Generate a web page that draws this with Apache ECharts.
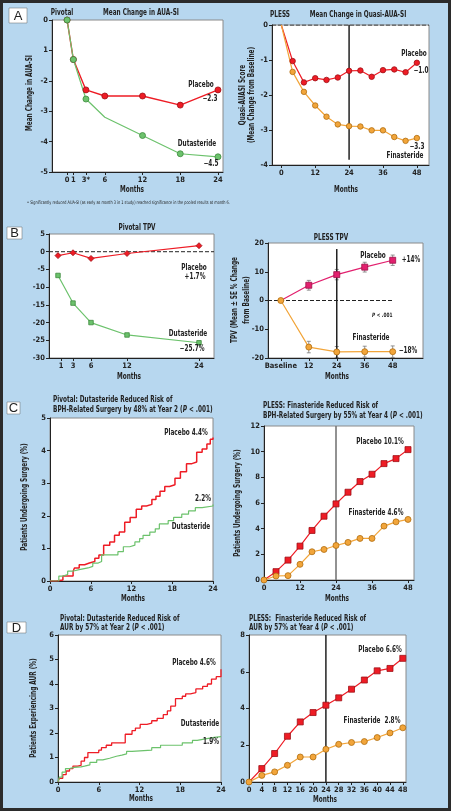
<!DOCTYPE html>
<html><head><meta charset="utf-8">
<script src="https://cdn.jsdelivr.net/npm/echarts@6/dist/echarts.min.js"></script>
<style>html,body{margin:0;padding:0;background:#b7d7ef}#c{width:451px;height:811px}</style>
</head><body><div id="c"></div><script>
// ---------- DATA ----------
// A left: Pivotal mean change in AUA-SI
const aPivMonths = [0, 1, 3, 6, 12, 18, 24];
const aPivPlacebo = [0, -1.3, -2.3, -2.5, -2.5, -2.8, -2.3];
const aPivDuta = [0, -1.3, -2.6, -3.2, -3.8, -4.4, -4.5];
const aPivXTicks = [0, 1, 3, 6, 12, 18, 24];
const aPivXLabels = ["0", "1", "3*", "6", "12", "18", "24"];
const aPivYTicks = [0, -1, -2, -3, -4, -5];
const aPivYLabels = ["0", "1", "-2", "-3", "-4", "-5"];
// A right: PLESS quasi-AUA-SI
const aPlessMonths = [0, 4, 8, 12, 16, 20, 24, 28, 32, 36, 40, 44, 48];
const aPlessPlacebo = [0, -1.03, -1.64, -1.52, -1.57, -1.50, -1.31, -1.30, -1.48, -1.29, -1.27, -1.35, -1.08];
const aPlessFin = [0, -1.34, -1.91, -2.30, -2.62, -2.84, -2.89, -2.90, -3.01, -3.01, -3.20, -3.31, -3.23];
const aPlessXTicks = [0, 12, 24, 36, 48];
// B left: Pivotal TPV
const bPivMonths = [0.5, 3, 6, 12, 24];
const bPivPlacebo = [-1.1, -0.3, -1.9, -0.5, 1.7];
const bPivDuta = [-6.7, -14.5, -20.0, -23.5, -25.7];
const bPivXTicks = [1, 3, 6, 12, 24];
// B right: PLESS TPV
const bPlessMonths = [0, 12, 24, 36, 48];
const bPlessPlacebo = [0, 5.3, 9.0, 11.6, 14.0];
const bPlessPlaceboSE = [0, 1.7, 1.8, 1.7, 1.8];
const bPlessFin = [0, -16.2, -17.9, -17.8, -17.8];
const bPlessFinSE = [0, 2.0, 1.9, 1.9, 2.0];
const bPlessXTicks = [0, 12, 24, 36, 48];
const bPlessXLabels = ["Baseline", "12", "24", "36", "48"];
// C left: Pivotal surgery KM
const cPivPlaceboT = [0, 0.9, 1.9, 3.4, 3.6, 4.3, 5.1, 5.8, 6.6, 7.2, 7.9, 8.8, 9.5, 10.2, 11.0, 11.8, 12.7, 13.5, 14.2, 15.0, 15.6, 16.2, 16.9, 17.6, 18.4, 19.2, 20.1, 20.9, 21.6, 22.4, 23.1, 23.6, 24];
const cPivPlaceboV = [0, 0.03, 0.15, 0.3, 0.4, 0.5, 0.55, 0.6, 0.7, 0.8, 1.1, 1.2, 1.4, 1.5, 1.8, 1.95, 2.2, 2.3, 2.35, 2.5, 2.6, 2.75, 2.9, 2.95, 3.15, 3.35, 3.6, 3.65, 3.95, 4.05, 4.2, 4.35, 4.4];
const cPivDutaT = [0, 1.3, 1.9, 2.6, 3.3, 4.3, 5.6, 6.3, 7.1, 7.6, 9.3, 10.0, 10.8, 11.75, 12.5, 13.2, 13.7, 14.7, 15.5, 16.1, 17.4, 18.2, 19.4, 20.4, 21.4, 22.4, 24];
const cPivDutaV = [0, 0.15, 0.2, 0.3, 0.35, 0.4, 0.45, 0.55, 0.6, 0.8, 0.8, 0.9, 1.05, 1.1, 1.2, 1.3, 1.4, 1.5, 1.6, 1.75, 1.85, 1.95, 2.05, 2.15, 2.25, 2.3, 2.35];
// C right: PLESS surgery
const cPlessMonths = [0, 4, 8, 12, 16, 20, 24, 28, 32, 36, 40, 44, 48];
const cPlessPlacebo = [0, 0.65, 1.55, 2.64, 3.86, 4.97, 5.93, 6.84, 7.67, 8.24, 9.07, 9.46, 10.16];
const cPlessFin = [0, 0.31, 0.34, 1.22, 2.2, 2.38, 2.69, 2.93, 3.24, 3.24, 4.2, 4.53, 4.72];
const cPlessXTicks = [0, 12, 24, 36, 48];
// D left: Pivotal AUR KM
const dPivPlaceboT = [0, 0.2, 0.7, 1.2, 1.7, 2.2, 2.9, 3.4, 3.9, 4.4, 6.0, 6.4, 7.1, 7.9, 9.9, 10.9, 11.4, 12.1, 13.1, 13.8, 14.6, 15.5, 16.1, 16.6, 17.3, 18.3, 18.8, 19.5, 20.3, 21.3, 22.0, 22.6, 23.3, 24];
const dPivPlaceboV = [0, 0.15, 0.3, 0.45, 0.55, 0.65, 0.68, 0.85, 1.0, 1.2, 1.3, 1.4, 1.5, 1.6, 1.95, 2.1, 2.2, 2.35, 2.4, 2.5, 2.6, 2.75, 2.9, 3.1, 3.4, 3.5, 3.6, 3.65, 3.8, 3.9, 4.0, 4.2, 4.3, 4.6];
const dPivDutaT = [0, 0.2, 0.6, 1.1, 1.7, 2.4, 3.4, 3.9, 4.7, 5.7, 6.6, 7.6, 8.6, 9.4, 10.1, 10.9, 13.8, 15.1, 18.3, 19.8, 20.5, 21.5, 23.0, 24];
const dPivDutaV = [0, 0.2, 0.4, 0.55, 0.6, 0.62, 0.65, 0.7, 0.8, 0.9, 0.97, 1.05, 1.1, 1.15, 1.25, 1.3, 1.4, 1.5, 1.6, 1.7, 1.75, 1.82, 1.85, 1.87];
// D right: PLESS AUR
const dPlessMonths = [0, 4, 8, 12, 16, 20, 24, 28, 32, 36, 40, 44, 48];
const dPlessPlacebo = [0, 0.73, 1.55, 2.49, 3.27, 3.78, 4.18, 4.58, 5.05, 5.55, 6.05, 6.18, 6.73];
const dPlessFin = [0, 0.36, 0.55, 0.91, 1.36, 1.36, 1.78, 2.05, 2.15, 2.2, 2.42, 2.67, 2.95];
const dPlessXTicks = [0, 4, 8, 12, 16, 20, 24, 28, 32, 36, 40, 44, 48];
const refMonth = 24;

// ---------- STYLE ----------
const FONT = "'Liberation Sans Narrow','DejaVu Sans Condensed',Roboto,sans-serif";
const SX = 0.8;
const RED = '#ee1c25', RED_D = '#9e1016';
const GREEN = '#6cc26c', GREEN_D = '#3d8a3d';
const ORANGE = '#f2a53a', ORANGE_D = '#b06d10';
const PINK = '#e2206e', PINK_D = '#9a1048';
const INK = '#222';

const zip = (xs, ys) => xs.map((x, i) => [x, ys[i]]);

const grids = [
  {left: 52, top: 20, width: 171, height: 152},
  {left: 272, top: 25, width: 157, height: 140},
  {left: 49, top: 234, width: 165, height: 124},
  {left: 268, top: 243, width: 155, height: 115},
  {left: 50, top: 418, width: 163, height: 163},
  {left: 264, top: 426, width: 150, height: 154},
  {left: 58, top: 635, width: 163, height: 147},
  {left: 249, top: 635, width: 157, height: 147}
].map(g => Object.assign({show: true, backgroundColor: '#fff', borderColor: '#8a8a8a', borderWidth: 1, containLabel: false, outerBoundsMode: 'none'}, g));

const lblStyle = {fontSize: 7.5, color: INK, fontFamily: FONT, fontWeight: 'bold'};
function xA(g, min, max, ticks, fmt) {
  return {type: 'value', gridIndex: g, min, max,
    axisLine: {show: true, onZero: false, lineStyle: {color: INK, width: 1}},
    axisTick: {show: true, customValues: ticks, length: 3, lineStyle: {color: INK}},
    axisLabel: Object.assign({customValues: ticks, margin: 4, formatter: fmt || (v => String(v))}, lblStyle),
    splitLine: {show: false}};
}
function yA(g, min, max, interval, fmt) {
  return {type: 'value', gridIndex: g, min, max, interval,
    axisLine: {show: true, onZero: false, lineStyle: {color: INK, width: 1}},
    axisTick: {show: true, length: 3, lineStyle: {color: INK}},
    axisLabel: Object.assign({margin: 4, formatter: fmt || (v => String(v))}, lblStyle),
    splitLine: {show: false}};
}

const xAxes = [
  xA(0, -2.4, 24.8, aPivXTicks, v => aPivXLabels[aPivXTicks.indexOf(v)]),
  xA(1, -3.3, 52.3, aPlessXTicks),
  xA(2, -1, 26.5, bPivXTicks),
  xA(3, -5.5, 61, bPlessXTicks, v => bPlessXLabels[bPlessXTicks.indexOf(v)]),
  xA(4, 0, 24, [0, 6, 12, 18, 24]),
  xA(5, 0, 50, cPlessXTicks),
  xA(6, 0, 24, [0, 6, 12, 18, 24]),
  xA(7, 0, 49, dPlessXTicks)
];
const yAxes = [
  yA(0, -5, 0, 1, v => aPivYLabels[aPivYTicks.indexOf(v)]),
  yA(1, -4, 0, 1),
  yA(2, -30, 5, 5),
  yA(3, -20, 20, 10),
  yA(4, 0, 5, 1),
  yA(5, 0, 12, 2),
  yA(6, 0, 6, 1),
  yA(7, 0, 8, 2)
];

function lineS(g, data, color, width, sym, size, border, extra) {
  return Object.assign({type: 'line', xAxisIndex: g, yAxisIndex: g, data, silent: true,
    lineStyle: {color, width}, itemStyle: {color, borderColor: border, borderWidth: 0.8},
    symbol: sym, symbolSize: size, showSymbol: sym !== 'none', animation: false, z: 3}, extra || {});
}
function refLine(g, pts, color, width, type) {
  return {type: 'line', xAxisIndex: g, yAxisIndex: g, data: pts, symbol: 'none', silent: true,
    lineStyle: {color, width, type: type || 'solid'}, animation: false, z: 2};
}
const noSym = (pairs, idxs) => pairs.map((p, i) => idxs.includes(i) ? {value: p, symbol: 'none'} : p);

function errBars(g, xs, ys, se) {
  return {type: 'custom', xAxisIndex: g, yAxisIndex: g, silent: true, animation: false, z: 2,
    data: xs.map((x, i) => [x, ys[i] - se[i], ys[i] + se[i]]).filter((d, i) => se[i] > 0),
    renderItem: (params, api) => {
      const lo = api.coord([api.value(0), api.value(1)]);
      const hi = api.coord([api.value(0), api.value(2)]);
      const st = {stroke: '#777', lineWidth: 0.8};
      return {type: 'group', children: [
        {type: 'line', shape: {x1: lo[0], y1: lo[1], x2: hi[0], y2: hi[1]}, style: st},
        {type: 'line', shape: {x1: lo[0] - 2, y1: lo[1], x2: lo[0] + 2, y2: lo[1]}, style: st},
        {type: 'line', shape: {x1: hi[0] - 2, y1: hi[1], x2: hi[0] + 2, y2: hi[1]}, style: st}
      ]};
    }};
}

const series = [
  // A left
  lineS(0, zip(aPivMonths, aPivPlacebo), RED, 1.4, 'circle', 6, RED_D),
  lineS(0, noSym(zip(aPivMonths, aPivDuta), [3]), GREEN, 1.2, 'circle', 6, GREEN_D),
  // A right
  refLine(1, [[-3.3, 0], [52.3, 0]], INK, 1, 'dashed'),
  refLine(1, [[refMonth, 0], [refMonth, -3.85]], INK, 1.5),
  lineS(1, noSym(zip(aPlessMonths, aPlessPlacebo), [0]), RED, 1.2, 'circle', 5.5, RED_D),
  lineS(1, noSym(zip(aPlessMonths, aPlessFin), [0]), ORANGE, 1.2, 'circle', 5.5, ORANGE_D),
  // B left
  refLine(2, [[-1, 0], [26.5, 0]], INK, 1, 'dashed'),
  lineS(2, zip(bPivMonths, bPivPlacebo), RED, 1.2, 'diamond', 6, RED_D),
  lineS(2, zip(bPivMonths, bPivDuta), GREEN, 1.2, 'rect', 4.5, GREEN_D),
  // B right
  refLine(3, [[-5.5, 0], [48, 0]], INK, 1, 'dashed'),
  refLine(3, [[refMonth, 17.9], [refMonth, -20]], INK, 1.5),
  errBars(3, bPlessMonths, bPlessPlacebo, bPlessPlaceboSE),
  errBars(3, bPlessMonths, bPlessFin, bPlessFinSE),
  lineS(3, noSym(zip(bPlessMonths, bPlessPlacebo), [0]), PINK, 1.2, 'rect', 6, PINK_D),
  lineS(3, zip(bPlessMonths, bPlessFin), ORANGE, 1.2, 'circle', 6, ORANGE_D),
  // C left
  lineS(4, zip(cPivPlaceboT, cPivPlaceboV), RED, 1.5, 'none', 0, RED, {step: 'end'}),
  lineS(4, zip(cPivDutaT, cPivDutaV), GREEN, 1.2, 'none', 0, GREEN, {step: 'end'}),
  // C right
  refLine(5, [[refMonth, 12], [refMonth, 0]], '#777', 1.6),
  lineS(5, noSym(zip(cPlessMonths, cPlessPlacebo), [0]), RED, 1.2, 'rect', 6, RED_D),
  lineS(5, zip(cPlessMonths, cPlessFin), ORANGE, 1.2, 'circle', 6, ORANGE_D),
  // D left
  lineS(6, zip(dPivPlaceboT, dPivPlaceboV), RED, 1.3, 'none', 0, RED, {step: 'end'}),
  lineS(6, zip(dPivDutaT, dPivDutaV), GREEN, 1.2, 'none', 0, GREEN, {step: 'end'}),
  // D right
  refLine(7, [[refMonth, 8], [refMonth, 0]], INK, 1.5),
  lineS(7, noSym(zip(dPlessMonths, dPlessPlacebo), [0]), RED, 1.2, 'rect', 6, RED_D),
  lineS(7, zip(dPlessMonths, dPlessFin), ORANGE, 1.2, 'circle', 6, ORANGE_D)
];

// ---------- TEXT ----------
function T(x, y, text, o) {
  const rot = (o && o.rot) || 0;
  return {type: 'text', x, y, z: 100, silent: true, rotation: rot, scaleX: SX,
    style: Object.assign({text, fill: INK, fontFamily: FONT, fontWeight: 'bold', fontSize: 8,
      align: 'center', verticalAlign: 'middle'}, (o && o.s) || {})};
}
function TR(x, y, pre, post, size) {
  return {type: 'text', x, y, z: 100, silent: true, scaleX: SX,
    style: {text: '{n|' + pre + '}{i|P}{n|' + post + '}', align: 'left', verticalAlign: 'middle',
      rich: {n: {fontFamily: FONT, fontWeight: 'bold', fontSize: size || 8, fill: INK},
             i: {fontFamily: FONT, fontWeight: 'bold', fontStyle: 'italic', fontSize: size || 8, fill: INK}}}};
}
function box(x, y, w, h, letter) {
  return {type: 'group', z: 100, silent: true, children: [
    {type: 'rect', shape: {x, y, width: w, height: h}, style: {fill: '#fff', stroke: '#666', lineWidth: 0.5}},
    {type: 'text', x: x + w / 2, y: y + h / 2 + 0.5, style: {text: letter, fontFamily: "'Liberation Sans',Arial,sans-serif", fontSize: 13, fill: INK, align: 'center', verticalAlign: 'middle'}}
  ]};
}
const ROT = Math.PI / 2;
const graphic = [
  {type: 'rect', z: 200, silent: true, shape: {x: 1.5, y: 1.5, width: 448, height: 808}, style: {fill: 'none', stroke: '#2b2b2b', lineWidth: 3}},
  box(9, 8, 18, 15, 'A'), box(7, 227, 15, 12, 'B'), box(7, 402, 13, 12, 'C'), box(7, 622, 19, 11, 'D'),
  // A
  T(62, 13, 'Pivotal'), T(141, 13, 'Mean Change in AUA-SI'),
  T(30, 93, 'Mean Change in AUA-SI', {rot: ROT}),
  T(201, 85, 'Placebo'), T(210, 99, '\u22122.3'), T(197, 144, 'Dutasteride'), T(211, 164, '\u22124.5'),
  T(132, 190, 'Months'),
  T(280, 15, 'PLESS'), T(358, 15, 'Mean Change in Quasi-AUA-SI'),
  T(243, 95, 'Quasi-AUASI Score', {rot: ROT}), T(252, 95, '(Mean Change from Baseline)', {rot: ROT}),
  T(414, 54, 'Placebo'), T(421, 71, '\u22121.0'), T(417, 147, '\u22123.3'), T(405, 156, 'Finasteride'),
  T(346, 190, 'Months'),
  T(27, 203, '\u2022 Significantly reduced AUA-SI (as early as month 3 in 1 study) reached significance in the pooled results at month 6.', {s: {align: 'left', fontSize: 4.8, fontWeight: 'normal'}}),
  // B
  T(137, 227.5, 'Pivotal TPV'),
  T(194, 267.5, 'Placebo'), T(195, 277, '+1.7%'), T(188, 334, 'Dutasteride'), T(192, 349, '\u221225.7%'),
  T(129, 377, 'Months'),
  T(331, 237.5, 'PLESS TPV'),
  T(235, 300, 'TPV (Mean \u00b1 SE % Change', {rot: ROT}), T(246.5, 300, 'from Baseline)', {rot: ROT}),
  T(373, 256, 'Placebo'), T(411, 260, '+14%'), T(371, 337.5, 'Finasteride'), T(408, 351, '\u221218%'),
  TR(372, 315, '', ' < .001', 6),
  T(337, 377, 'Months'),
  // C
  T(53, 400, 'Pivotal: Dutasteride Reduced Risk of', {s: {align: 'left'}}),
  TR(53, 409.5, 'BPH-Related Surgery by 48% at Year 2 (', ' < .001)'),
  T(25, 497, 'Patients Undergoing Surgery (%)', {rot: ROT}),
  T(186, 433, 'Placebo 4.4%'), T(203, 499, '2.2%'), T(191, 527, 'Dutasteride'),
  T(133, 599, 'Months'),
  T(263, 406, 'PLESS: Finasteride Reduced Risk of', {s: {align: 'left'}}),
  TR(263, 416, 'BPH-Related Surgery by 55% at Year 4 (', ' < .001)'),
  T(238, 503, 'Patients Undergoing Surgery (%)', {rot: ROT}),
  T(380, 442, 'Placebo 10.1%'), T(376, 513, 'Finasteride 4.6%'),
  T(337, 599, 'Months'),
  // D
  T(60, 619, 'Pivotal: Dutasteride Reduced Risk of', {s: {align: 'left'}}),
  TR(60, 628, 'AUR by 57% at Year 2 (', ' < .001)'),
  T(34, 708, 'Patients Experiencing AUR (%)', {rot: ROT}),
  T(194, 663, 'Placebo 4.6%'), T(200, 724, 'Dutasteride'), T(211, 742, '1.9%'),
  T(141, 799, 'Months'),
  T(249, 619, 'PLESS:  Finasteride Reduced Risk of', {s: {align: 'left'}}),
  TR(249, 628, 'AUR by 57% at Year 4 (', ' < .001)'),
  T(380, 650, 'Placebo 6.6%'), T(372, 721, 'Finasteride  2.8%'),
  T(325, 800, 'Months')
];

const chart = echarts.init(document.getElementById('c'), null, {renderer: 'canvas'});
chart.setOption({backgroundColor: '#b7d7ef', animation: false, grid: grids, xAxis: xAxes, yAxis: yAxes, series, graphic});
</script></body></html>
